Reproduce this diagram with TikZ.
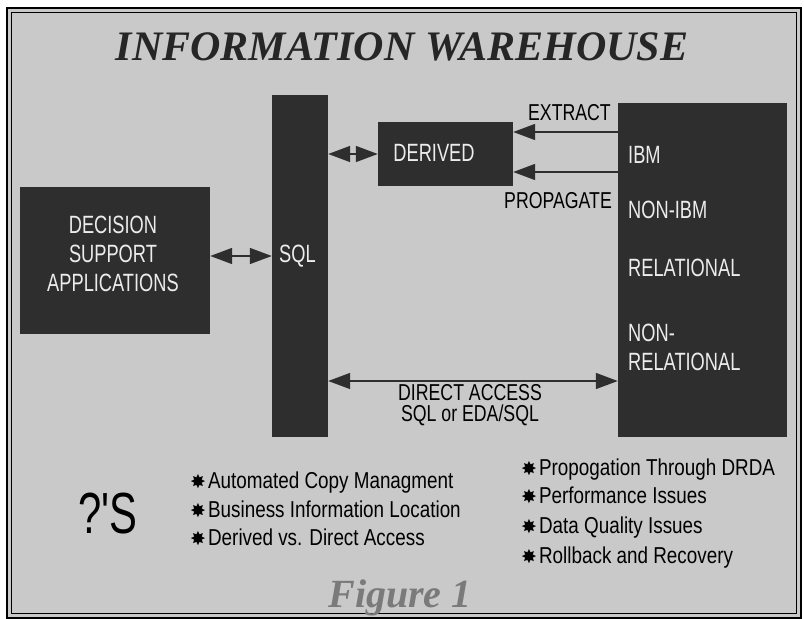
\documentclass[tikz,border=0pt]{standalone}
\usepackage{fontspec}
\usetikzlibrary{arrows.meta}
\setmainfont{Liberation Serif}
\newfontfamily\boxf[FakeStretch=0.73]{Liberation Sans}
\newfontfamily\labf[FakeStretch=0.77]{Liberation Sans}
\newfontfamily\bulf[FakeStretch=0.82]{Liberation Sans}
\newfontfamily\qf[FakeStretch=0.72]{Liberation Sans}
\newfontfamily\djf{DejaVu Sans}
\definecolor{bg}{HTML}{C9C9C9}
\definecolor{dark}{HTML}{2E2E2E}
\definecolor{ltxt}{HTML}{ECECEC}
\definecolor{figc}{HTML}{7A7A7A}
\tikzset{
  darkbox/.style={fill=dark, draw=none, inner sep=0pt, anchor=center},
  boxlabel/.style={text=ltxt, font=\boxf\fontsize{25}{29}\selectfont, inner sep=0pt},
  arrlabel/.style={text=black, font=\labf\fontsize{23}{21}\selectfont, inner sep=0pt},
  bullet/.style={text=black, font=\bulf\fontsize{23}{24}\selectfont, inner sep=0pt, anchor=base west},
  conn/.style={line width=1.6pt, draw=dark}
}
\newcommand{\bul}{{\djf\fontsize{19}{19}\selectfont ✸}\hspace{2pt}}
\begin{document}
\begin{tikzpicture}[x=1pt,y=-1pt,
  >={Triangle[length=22pt,width=16pt]}]
\useasboundingbox (0,0) rectangle (804,619);
\fill[white] (0,0) rectangle (804,619);
\fill[bg] (7,8) rectangle (801,618);
\draw[line width=1.6pt] (7,8) rectangle (801,618);
\draw[line width=0.8pt] (11.5,12.5) rectangle (796.5,613.5);

% title
\node[font=\bfseries\itshape\fontsize{42}{42}\selectfont, anchor=base, inner sep=0pt, text=black!85] (title) at (402,60) {INFORMATION WAREHOUSE};

% boxes
\node[darkbox, minimum width=190pt, minimum height=147pt] (dss) at (115,260.5) {};
\node[darkbox, minimum width=56pt, minimum height=342pt] (sql) at (300,266) {};
\node[darkbox, minimum width=135pt, minimum height=64pt] (der) at (445.5,154) {};
\node[darkbox, minimum width=169pt, minimum height=334pt] (src) at (702.5,270) {};

% box labels
\node[boxlabel, align=center] (dsst) at (113,254) {DECISION\\SUPPORT\\APPLICATIONS};
\node[boxlabel] (sqlt) at (297.5,256) {SQL};
\node[boxlabel] (dert) at (434,153) {DERIVED};
\node[boxlabel, anchor=west] (ibm) at (628,155) {IBM};
\node[boxlabel, anchor=west] (nonibm) at (628,210) {NON-IBM};
\node[boxlabel, anchor=west] (rel) at (628,268) {RELATIONAL};
\node[boxlabel, anchor=west, align=left] (nonrel) at (628,347) {NON-\\RELATIONAL};

% connectors
\draw[conn, <->] ([yshift=4.5pt]dss.east) -- ([yshift=4.5pt]dss.east -| sql.west);
\draw[conn, <->] (der.west -| sql.east) -- (der.west);
\draw[conn, <-] ([yshift=22pt]der.east) -- ([yshift=22pt]der.east -| src.west);
\draw[conn, <-] ([yshift=-18pt]der.east) -- ([yshift=-18pt]der.east -| src.west);
\draw[conn, <->] ([yshift=-115pt]sql.east) -- ([yshift=-115pt]sql.east -| src.west);

% connector labels
\node[arrlabel, anchor=east] (ext) at (611,113) {EXTRACT};
\node[arrlabel, anchor=east] (prop) at (612,201) {PROPAGATE};
\node[arrlabel, align=center] (direct) at (470,405) {DIRECT ACCESS\\SQL or EDA/SQL};

% questions
\node[font=\qf\fontsize{58}{58}\selectfont, anchor=base west, inner sep=0pt] (q) at (78,533) {?'S};
\node[bullet] (b1) at (190,488) {\bul Automated Copy Managment};
\node[bullet] (b2) at (190,517) {\bul Business Information Location};
\node[bullet] (b3) at (190,545) {\bul Derived vs. Direct Access};
\node[bullet] (b4) at (521,475) {\bul Propogation Through DRDA};
\node[bullet] (b5) at (521,503) {\bul Performance Issues};
\node[bullet] (b6) at (521,533) {\bul Data Quality Issues};
\node[bullet] (b7) at (521,563) {\bul Rollback and Recovery};

% figure caption
\node[font=\bfseries\itshape\fontsize{40}{40}\selectfont, anchor=base, inner sep=0pt, text=figc] (fig) at (400,607) {Figure 1};
\end{tikzpicture}
\end{document}
